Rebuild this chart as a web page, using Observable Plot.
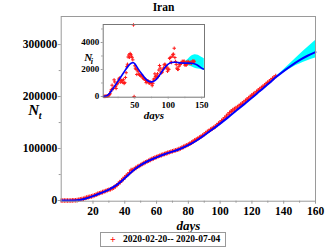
<!DOCTYPE html>
<html>
<head>
<meta charset="utf-8">
<script src="https://cdn.jsdelivr.net/npm/d3@7"></script>
<script src="https://cdn.jsdelivr.net/npm/@observablehq/plot@0.6"></script>
<style>
  html, body { margin: 0; padding: 0; background: white; }
  #wrap { position: relative; width: 327px; height: 252px; overflow: hidden; background: white; font-family: "Liberation Serif", "Times New Roman", serif; }
  #wrap svg { position: absolute; }
  #wrap svg, #wrap svg text { font-family: "Liberation Serif", "Times New Roman", serif !important; font-weight: bold; }
  #title { position: absolute; left: 0; top: 1px; width: 327px; text-align: center; font-weight: bold; font-size: 11.5px; }
  #legend { position: absolute; left: 100px; top: 232px; width: 124px; height: 13px; border: 1px solid #999; font-weight: bold; font-size: 9.5px; line-height: 13px; white-space: nowrap; }
  #legend .mk { position: absolute; left: 9px; top: 0; color: #ff0000; font-size: 10px; }
  #legend .tx { position: absolute; left: 22px; top: 0; }
</style>
</head>
<body>
<div id="wrap">
  <div id="title">Iran</div>
  <div id="legend"><span class="mk">+</span><span class="tx">2020-02-20-- 2020-07-04</span></div>
</div>
<script>
// Daily new cases, Iran, 2020-02-20 .. 2020-07-04
const dailyCases = [
  3, 13, 10, 15, 18, 34, 44, 106, 143, 205,
  385, 523, 835, 586, 591, 1234, 1076, 743, 595, 881,
  958, 1075, 1289, 1365, 1209, 1053, 1178, 1192, 1046, 1237,
  966, 1028, 1411, 1762, 2206, 2389, 2926, 3076, 2901, 3186,
  3110, 2987, 2875, 2715, 5300, 0, 2274, 2089, 1997, 1634,
  1972, 1837, 1657, 1617, 1574, 1512, 1606, 1499, 1374, 1343,
  1294, 1297, 1194, 1030, 1168, 1134, 1153, 1006, 991, 1073,
  993, 1006, 802, 976, 1223, 1323, 1680, 1485, 1529, 1383,
  1683, 1481, 1958, 2294, 2102, 1808, 1757, 1806, 1991, 2111,
  2346, 2392, 2311, 2102, 2180, 1869, 2023, 2013, 2819, 2889,
  2540, 2516, 2979, 3117, 3134, 3574, 2886, 2596, 2364, 2095,
  2011, 2011, 2238, 2410, 2369, 2472, 2449, 2612, 2563, 2596,
  2615, 2322, 2368, 2322, 2573, 2445, 2595, 2456, 2489, 2536,
  2457, 2449, 2549, 2652, 2560, 2613
];
const mainStartDay = 0;   // first data day on the main axis
const insetStartDay = 4;  // first data day on the inset axis

// Fitted cumulative curve N_t
const fitDays = [0, 5, 10, 15, 20, 25, 30, 35, 40, 45, 50, 55, 60, 65, 70, 75, 80, 85, 90, 95, 100, 105, 110, 115, 120, 125, 130, 135, 140, 145, 150, 155, 160];
const fitNt   = [0, 100, 700, 3500, 8500, 14500, 21000, 30000, 43000, 57000, 68000, 76500, 83000, 89000, 94000, 99500, 106500, 115000, 125500, 136500, 148000, 160000, 172500, 185000, 197500, 210500, 223500, 237000, 249000, 260000, 270000, 278500, 285500];
// Forecast band N_t
const bandDays  = [135, 140, 145, 150, 155, 160];
const bandUpper = [237500, 251500, 266000, 280500, 294500, 308000];
const bandLower = [236600, 246000, 255000, 262500, 269000, 274000];

// Inset: fitted daily curve N_i
const insetFitDays = [3, 5, 10, 15, 20, 25, 30, 35, 40, 45, 48, 50, 55, 60, 65, 70, 75, 80, 85, 90, 95, 100, 105, 110, 115, 120, 125, 130, 135, 140, 145, 150, 154];
const insetFitNi   = [0, 20, 120, 420, 780, 1150, 1520, 1900, 2250, 2480, 2500, 2420, 2050, 1700, 1380, 1150, 1080, 1180, 1450, 1800, 2150, 2400, 2520, 2540, 2510, 2480, 2470, 2470, 2460, 2400, 2280, 2100, 2020];
const insetBandDays  = [120, 125, 130, 135, 140, 145, 150, 154];
const insetBandUpper = [2480, 2560, 2760, 3000, 3100, 3050, 2900, 2800];
const insetBandLower = [2470, 2400, 2300, 2200, 2100, 2030, 1980, 1950];

// Tick labels
const mainXTicks = [20, 40, 60, 80, 100, 120, 140, 160];
const mainXMinor = [10, 30, 50, 70, 90, 110, 130, 150];
const mainYTicks = [0, 100000, 200000, 300000];
const mainYMinor = [50000, 150000, 250000];
const insetXTicks = [50, 100, 150];
const insetXMinor = [25, 75, 125];
const insetYTicks = [0, 2000, 4000];
const insetYMinor = [1000, 3000, 5000];

const cumCases = Array.from(d3.cumsum(dailyCases));
const mainPts = dailyCases.map((d, i) => ({x: mainStartDay + i, y: cumCases[i]}));
const insetPts = dailyCases.map((d, i) => ({x: insetStartDay + i, y: d}));
const fit = fitDays.map((d, i) => ({x: d, y: fitNt[i]}));
const band = bandDays.map((d, i) => ({x: d, y1: bandLower[i], y2: bandUpper[i]}));
const insetFit = insetFitDays.map((d, i) => ({x: d, y: insetFitNi[i]}));
const insetBand = insetBandDays.map((d, i) => ({x: d, y1: insetBandLower[i], y2: insetBandUpper[i]}));

const RED = "#ff1a1a", BLUE = "#0000ff", CYAN = "#00ffff", GRAY = "#9a9a9a";
const fmt = d3.format("d");

const main = Plot.plot({
  width: 327, height: 232,
  marginLeft: 60.7, marginRight: 12, marginTop: 16, marginBottom: 31.3,
  x: {domain: [0, 160]},
  y: {domain: [-1300, 354000]},
  style: {fontFamily: "Liberation Serif", fontWeight: "bold", fontSize: "11.5px", background: "transparent", color: "black"},
  marks: [
    Plot.areaY(band, {x: "x", y1: "y1", y2: "y2", fill: CYAN, curve: "natural"}),
    Plot.dot(mainPts, {x: "x", y: "y", symbol: "plus", r: 1.6, stroke: RED, strokeWidth: 1.1}),
    Plot.line(fit, {x: "x", y: "y", stroke: BLUE, strokeWidth: 2, curve: "natural"}),
    Plot.frame({stroke: GRAY}),
    Plot.axisY({ticks: mainYTicks, tickFormat: fmt, tickSize: 3, tickPadding: 1, stroke: GRAY, fill: "black", label: null}),
    Plot.axisY({ticks: mainYMinor, tickFormat: () => "", tickSize: 2, stroke: GRAY, label: null}),
    Plot.axisX({ticks: mainXTicks, tickFormat: fmt, tickSize: 3, tickPadding: 3, stroke: GRAY, fill: "black", label: null}),
    Plot.axisX({ticks: mainXMinor, tickFormat: () => "", tickSize: 2, stroke: GRAY, label: null}),
    Plot.text(["days"], {frameAnchor: "bottom", lineAnchor: "middle", dy: 24.5, fontStyle: "italic", fontSize: 13}),
    Plot.text(["N"], {frameAnchor: "left", lineAnchor: "middle", dx: -33, dy: 1, fontStyle: "italic", fontSize: 15}),
    Plot.text(["t"], {frameAnchor: "left", lineAnchor: "middle", dx: -22.5, dy: 7, fontStyle: "italic", fontSize: 10})
  ]
});
main.style.left = "0px";
main.style.top = "0px";

const inset = Plot.plot({
  width: 150, height: 112,
  marginLeft: 42.7, marginRight: 6, marginTop: 14, marginBottom: 25.3,
  x: {domain: [2.7, 154.3]},
  y: {domain: [-52, 5333]},
  style: {fontFamily: "Liberation Serif", fontWeight: "bold", fontSize: "9px", background: "transparent", color: "black"},
  marks: [
    Plot.frame({fill: "white", stroke: "none"}),
    Plot.areaY(insetBand, {x: "x", y1: "y1", y2: "y2", fill: CYAN, curve: "natural"}),
    Plot.dot(insetPts, {x: "x", y: "y", symbol: "plus", r: 1.2, stroke: RED, strokeWidth: 1}),
    Plot.line(insetFit, {x: "x", y: "y", stroke: BLUE, strokeWidth: 1.6, curve: "natural"}),
    Plot.frame({stroke: "#777"}),
    Plot.axisY({ticks: insetYTicks, tickFormat: fmt, tickSize: 2, tickPadding: 2, stroke: GRAY, fill: "black", label: null}),
    Plot.axisY({ticks: insetYMinor, tickFormat: () => "", tickSize: 1.5, stroke: GRAY, label: null}),
    Plot.axisX({ticks: insetXTicks, tickFormat: fmt, tickSize: 2, tickPadding: 2, stroke: GRAY, fill: "black", label: null}),
    Plot.axisX({ticks: insetXMinor, tickFormat: () => "", tickSize: 1.5, stroke: GRAY, label: null}),
    Plot.text(["days"], {frameAnchor: "bottom", lineAnchor: "middle", dy: 18.3, fontStyle: "italic", fontSize: 11}),
    Plot.text(["N"], {frameAnchor: "left", lineAnchor: "middle", dx: -19, dy: -3.5, fontStyle: "italic", fontSize: 11}),
    Plot.text(["i"], {frameAnchor: "left", lineAnchor: "middle", dx: -12.5, dy: 0.5, fontStyle: "italic", fontSize: 8})
  ]
});
inset.style.left = "60px";
inset.style.top = "10px";

const wrap = document.getElementById("wrap");
wrap.insertBefore(main, wrap.firstChild);
wrap.appendChild(inset);
</script>
</body>
</html>
